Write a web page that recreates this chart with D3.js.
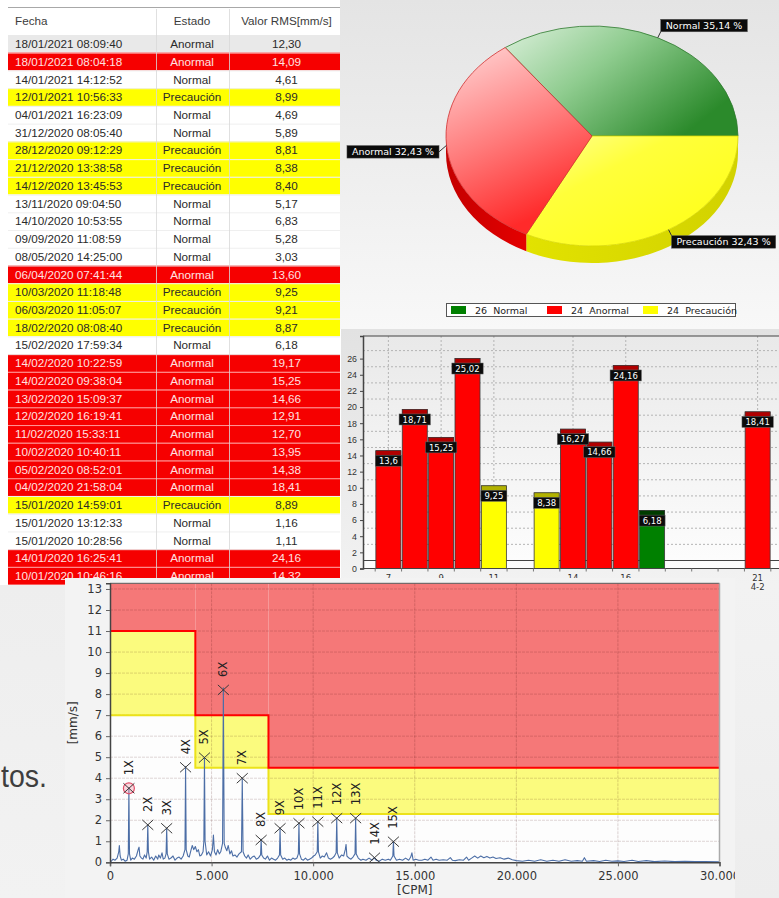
<!DOCTYPE html>
<html><head><meta charset="utf-8">
<script src="https://cdn.jsdelivr.net/npm/d3@7"></script>
<style>html,body{margin:0;padding:0;background:#fff;overflow:hidden}</style>
</head><body><svg id="c" width="779" height="898"></svg>
<script>
// ---------------- DATA ----------------
const tableHeaders = ["Fecha", "Estado", "Valor RMS[mm/s]"];
const tableDates = ["18/01/2021 08:09:40","18/01/2021 08:04:18","14/01/2021 14:12:52","12/01/2021 10:56:33","04/01/2021 16:23:09","31/12/2020 08:05:40","28/12/2020 09:12:29","21/12/2020 13:38:58","14/12/2020 13:45:53","13/11/2020 09:04:50","14/10/2020 10:53:55","09/09/2020 11:08:59","08/05/2020 14:25:00","06/04/2020 07:41:44","10/03/2020 11:18:48","06/03/2020 11:05:07","18/02/2020 08:08:40","15/02/2020 17:59:34","14/02/2020 10:22:59","14/02/2020 09:38:04","13/02/2020 15:09:37","12/02/2020 16:19:41","11/02/2020 15:33:11","10/02/2020 10:40:11","05/02/2020 08:52:01","04/02/2020 21:58:04","15/01/2020 14:59:01","15/01/2020 13:12:33","15/01/2020 10:28:56","14/01/2020 16:25:41","10/01/2020 10:46:16"];
const tableStates = ["Anormal","Anormal","Normal","Precaución","Normal","Normal","Precaución","Precaución","Precaución","Normal","Normal","Normal","Normal","Anormal","Precaución","Precaución","Precaución","Normal","Anormal","Anormal","Anormal","Anormal","Anormal","Anormal","Anormal","Anormal","Precaución","Normal","Normal","Anormal","Anormal"];
const tableValues = [12.30,14.09,4.61,8.99,4.69,5.89,8.81,8.38,8.40,5.17,6.83,5.28,3.03,13.60,9.25,9.21,8.87,6.18,19.17,15.25,14.66,12.91,12.70,13.95,14.38,18.41,8.89,1.16,1.11,24.16,14.32];
const selectedRow = 0;

const pieLabels = ["Normal", "Anormal", "Precaución"];
const pieCounts = [26, 24, 24];

const barDays = [7, 8, 9, 10, 11, 13, 14, 15, 16, 17, 21];
const barValues = [13.6, 18.71, 15.25, 25.02, 9.25, 8.38, 16.27, 14.66, 24.16, 6.18, 18.41];
const barStates = ["Anormal","Anormal","Anormal","Anormal","Precaución","Precaución","Anormal","Anormal","Anormal","Normal","Anormal"];
const barTickDays = [7, 9, 11, 14, 16, 21];
const barTickSub = {21: "4-2"};

const spectrum = [[0,0],[60,0.05],[150,0.15],[250,0.1],[350,0.2],[430,0.5],[460,0.8],[500,0.3],[560,0.1],[650,0.15],[750,0.05],[840,0.1],[900,0.4],[930,3.55],[960,0.4],[1020,0.1],[1100,0.2],[1200,0.15],[1300,0.3],[1400,0.65],[1430,0.72],[1470,0.3],[1550,0.2],[1620,0.15],[1700,0.35],[1780,0.2],[1830,0.5],[1860,1.8],[1890,0.5],[1950,0.15],[2050,0.25],[2150,0.1],[2250,0.3],[2350,0.15],[2400,0.35],[2480,0.2],[2560,0.45],[2620,0.15],[2700,0.2],[2760,0.4],[2790,1.62],[2820,0.4],[2900,0.15],[3000,0.2],[3100,0.3],[3200,0.1],[3300,0.2],[3400,0.25],[3500,0.15],[3600,0.3],[3690,0.6],[3720,4.55],[3750,0.6],[3830,0.3],[3900,0.25],[3980,0.55],[4050,0.8],[4120,0.6],[4200,0.75],[4280,0.5],[4350,0.6],[4420,0.3],[4500,0.35],[4580,0.5],[4620,1.0],[4650,5.0],[4680,1.0],[4760,0.35],[4850,0.5],[4950,0.3],[5040,0.6],[5090,1.3],[5140,0.5],[5220,0.35],[5300,0.6],[5380,0.4],[5450,0.5],[5540,0.9],[5580,8.3],[5620,0.9],[5680,0.7],[5750,0.55],[5820,0.8],[5900,0.4],[5980,0.55],[6050,0.3],[6150,0.35],[6250,0.25],[6350,0.4],[6470,0.5],[6510,4.0],[6550,0.5],[6630,0.3],[6720,0.2],[6800,0.35],[6900,0.15],[7000,0.25],[7100,0.3],[7200,0.15],[7300,0.2],[7410,0.35],[7440,1.1],[7470,0.35],[7560,0.2],[7650,0.15],[7750,0.3],[7850,0.1],[7950,0.2],[8050,0.15],[8150,0.1],[8250,0.2],[8340,0.35],[8370,1.62],[8400,0.35],[8500,0.15],[8600,0.2],[8700,0.1],[8800,0.15],[8900,0.1],[9000,0.2],[9100,0.15],[9200,0.2],[9270,0.4],[9300,1.86],[9330,0.4],[9420,0.15],[9520,0.1],[9620,0.2],[9720,0.1],[9820,0.15],[9920,0.2],[10020,0.3],[10100,0.35],[10200,0.5],[10230,1.95],[10260,0.5],[10350,0.2],[10450,0.3],[10550,0.25],[10660,0.45],[10750,0.2],[10850,0.15],[10950,0.2],[11050,0.3],[11130,0.45],[11160,2.1],[11190,0.45],[11280,0.2],[11400,0.35],[11500,0.3],[11580,0.6],[11620,0.85],[11660,0.3],[11760,0.2],[11860,0.15],[11960,0.25],[12060,0.4],[12090,2.1],[12120,0.4],[12220,0.2],[12350,0.1],[12450,0.15],[12600,0.1],[12750,0.2],[12900,0.1],[13000,0.22],[13100,0.1],[13250,0.05],[13400,0.15],[13550,0.1],[13700,0.15],[13800,0.1],[13920,0.3],[13950,1.0],[13980,0.3],[14100,0.1],[14250,0.15],[14400,0.1],[14550,0.2],[14700,0.1],[14800,0.25],[14860,0.45],[14920,0.1],[15050,0.15],[15200,0.1],[15350,0.1],[15500,0.15],[15650,0.1],[15800,0.25],[15900,0.1],[16050,0.15],[16200,0.1],[16400,0.12],[16600,0.1],[16750,0.22],[16850,0.1],[17000,0.08],[17200,0.12],[17400,0.1],[17550,0.25],[17650,0.1],[17800,0.2],[17950,0.3],[18100,0.2],[18250,0.3],[18400,0.22],[18550,0.28],[18700,0.2],[18850,0.25],[19000,0.18],[19200,0.22],[19400,0.15],[19600,0.2],[19800,0.12],[20000,0.08],[20300,0.05],[20600,0.1],[20900,0.05],[21200,0.12],[21500,0.05],[21800,0.1],[22100,0.05],[22400,0.12],[22700,0.05],[23000,0.08],[23250,0.05],[23350,0.22],[23450,0.05],[23800,0.08],[24100,0.04],[24400,0.1],[24700,0.05],[25000,0.07],[25300,0.04],[25700,0.1],[26000,0.04],[26400,0.08],[26800,0.03],[27300,0.06],[27800,0.03],[28300,0.05],[28800,0.03],[29300,0.04],[30000,0.02]];
const harmCPM = [930,1860,2790,3720,4650,5580,6510,7440,8370,9300,10230,11160,12090,13020,13950];
const harmAmp = [3.52,1.78,1.62,4.52,4.98,8.2,4.0,1.06,1.62,1.86,1.93,2.1,2.1,0.22,0.98];
const zoneEdges = [0, 4200, 7800, 30000];
const alarmLevels = [11, 7, 4.5];
const warnLevels = [7, 4.5, 2.3];
const specXTicks = [0, 5000, 10000, 15000, 20000, 25000, 30000];
const specYTicks = [0,1,2,3,4,5,6,7,8,9,10,11,12,13];

// ---------------- SETUP ----------------
const svg = d3.select("#c");
const defs = svg.append("defs");
function grad(id, x1, y1, x2, y2, stops) {
  const g = defs.append("linearGradient").attr("id", id)
    .attr("x1", x1).attr("y1", y1).attr("x2", x2).attr("y2", y2);
  stops.forEach(s => g.append("stop").attr("offset", s[0]).attr("stop-color", s[1]));
}
grad("gPiePanel", 0, 0, 0, 1, [[0, "#e4e4e4"], [1, "#f8f8f8"]]);
grad("gBarPanel", 0, 0, 0, 1, [[0, "#e2e2e2"], [0.45, "#f2f2f2"], [1, "#ededed"]]);
grad("gBarPlot", 0, 0, 0, 1, [[0, "#e9e9e9"], [1, "#fdfdfd"]]);
grad("gNormal", 0, 0, 1, 0.6, [[0, "#dcf0dc"], [0.45, "#8fcc8f"], [1, "#2b8a2b"]]);
grad("gAnormal", 0, 0, 0.35, 1, [[0, "#ffd8d8"], [0.55, "#ff7b7b"], [1, "#ff2a2a"]]);
grad("gPrecaucion", 0, 0, 1, 1, [[0, "#ffff9a"], [0.35, "#ffff3a"], [1, "#ffff10"]]);
grad("gSideA", 0, 0, 1, 0, [[0, "#c40000"], [1, "#e40000"]]);
grad("gSideP", 0, 0, 1, 0, [[0, "#e2e200"], [1, "#d2d200"]]);
grad("gLeft", 0, 0, 0, 1, [[0, "#eeeeee"], [1, "#f2f2f2"]]);

svg.append("rect").attr("width", 779).attr("height", 898).attr("fill", "#ffffff");

// ---------------- TABLE ----------------
const tb = svg.append("g").attr("font-family", "'Liberation Sans', Arial, sans-serif").attr("font-size", "11.7px");
const rowTop = 35, rowH = 17.73, tX0 = 8, tX1 = 340, colDiv = [156, 229];
const stateFill = {"Anormal": "#f60000", "Precaución": "#ffff00", "Normal": "#ffffff"};
const rows = d3.range(tableDates.length);
tb.append("line").attr("x1", tX0).attr("x2", tX1).attr("y1", 7.5).attr("y2", 7.5).attr("stroke", "#a8a8a8");
tb.selectAll("rect.row").data(rows).join("rect")
  .attr("x", tX0).attr("y", i => rowTop + i * rowH).attr("width", tX1 - tX0).attr("height", rowH)
  .attr("fill", i => i === selectedRow ? "#e9e9e9" : stateFill[tableStates[i]]);
tb.selectAll("line.sep").data(rows.slice(1)).join("line")
  .attr("x1", tX0).attr("x2", tX1).attr("y1", i => rowTop + i * rowH + 0.5).attr("y2", i => rowTop + i * rowH + 0.5)
  .attr("stroke", i => (tableStates[i] === "Anormal" && tableStates[i - 1] === "Anormal") ? "#ff9a9a" : "#efefef").attr("stroke-width", 1);
colDiv.forEach(x => tb.append("line").attr("x1", x + 0.5).attr("x2", x + 0.5).attr("y1", 9).attr("y2", 585)
  .attr("stroke", "#d8d8d8").attr("stroke-opacity", 0.8));
const colText = [{x: 15, anchor: "start"}, {x: 192, anchor: "middle"}, {x: 286.5, anchor: "middle"}];
tableHeaders.forEach((h, j) => tb.append("text").attr("x", colText[j].x).attr("y", 25)
  .attr("text-anchor", colText[j].anchor).attr("fill", "#3c3c3c").text(h));
const fmtVal = v => d3.format(".2f")(v).replace(".", ",");
rows.forEach(i => {
  const y = rowTop + i * rowH + rowH / 2 + 4.2;
  const col = (i !== selectedRow && tableStates[i] === "Anormal") ? "#ffe2e2" : "#2a2a2a";
  const vals = [tableDates[i], tableStates[i], fmtVal(tableValues[i])];
  vals.forEach((t, j) => tb.append("text").attr("x", colText[j].x).attr("y", y)
    .attr("text-anchor", colText[j].anchor).attr("fill", col).text(t));
});

// ---------------- PIE PANEL ----------------
const pg = svg.append("g");
pg.append("rect").attr("x", 340).attr("y", 0).attr("width", 439).attr("height", 329).attr("fill", "url(#gPiePanel)");
const pcx = 592, pcy = 136, prx = 146, pry = 110, pdep = 17;
const total = d3.sum(pieCounts);
const drawOrder = [0, 2, 1]; // clockwise: Normal, Precaución, Anormal
const startA = Math.PI / 2 - 2 * Math.PI * pieCounts[0] / total;
const arcs = d3.pie().sort(null).value(i => pieCounts[i]).startAngle(startA).endAngle(startA + 2 * Math.PI)(drawOrder);
const P = (a, dy = 0) => [pcx + prx * Math.sin(a), pcy - pry * Math.cos(a) + dy];
const topFill = {"Normal": "url(#gNormal)", "Anormal": "url(#gAnormal)", "Precaución": "url(#gPrecaucion)"};
const sideFill = {"Normal": "#1f6f1f", "Anormal": "url(#gSideA)", "Precaución": "url(#gSideP)"};
const rimCol = {"Normal": "#2f7a2f", "Anormal": "#d03030", "Precaución": "#d8d800"};
// side walls
arcs.forEach(a => {
  const s = Math.max(a.startAngle, Math.PI / 2), e = Math.min(a.endAngle, 3 * Math.PI / 2);
  if (e - s <= 0.001) return;
  const p0 = P(s), p1 = P(e), q1 = P(e, pdep), q0 = P(s, pdep);
  const lg = (e - s) > Math.PI ? 1 : 0;
  pg.append("path").attr("d", `M${p0}A${prx},${pry} 0 ${lg} 1 ${p1}L${q1}A${prx},${pry} 0 ${lg} 0 ${q0}Z`)
    .attr("fill", sideFill[pieLabels[a.data]]);
});
// top faces
arcs.forEach(a => {
  const p0 = P(a.startAngle), p1 = P(a.endAngle);
  const lg = (a.endAngle - a.startAngle) > Math.PI ? 1 : 0;
  pg.append("path").attr("d", `M${pcx},${pcy}L${p0}A${prx},${pry} 0 ${lg} 1 ${p1}Z`)
    .attr("fill", topFill[pieLabels[a.data]]).attr("stroke", rimCol[pieLabels[a.data]]).attr("stroke-width", 0.8)
    .attr("stroke-linejoin", "round");
});
// labels
const pl = pg.append("g").attr("font-family", "'DejaVu Sans', Verdana, sans-serif").attr("font-size", "9.5px");
arcs.forEach(a => {
  const m = (a.startAngle + a.endAngle) / 2;
  const anc = P(m);
  const right = Math.sin(m) > 0;
  const txt = `${pieLabels[a.data]} ${d3.format(".2f")(100 * pieCounts[a.data] / total).replace(".", ",")} %`;
  let end, bx0, by0;
  const bh = 12.5;
  const t = pl.append("text").attr("fill", "#ffffff").text(txt);
  const tw = t.node().getComputedTextLength();
  const bw = tw + 10;
  if (right) {
    const up = Math.cos(m) > 0;
    end = [anc[0] + 3, anc[1] + (up ? -6 : 6)];
    bx0 = end[0]; by0 = up ? end[1] - bh : end[1];
  } else {
    end = [anc[0] - 7.5, anc[1] + 6.5];
    bx0 = end[0] - bw; by0 = end[1] - bh / 2;
  }
  pl.insert("line", "text").attr("x1", anc[0]).attr("y1", anc[1]).attr("x2", end[0]).attr("y2", end[1]).attr("stroke", "#333").attr("stroke-width", 1);
  pl.insert("rect", "text").attr("x", bx0).attr("y", by0).attr("width", bw).attr("height", bh).attr("fill", "#0b0b0b").attr("stroke", "#555").attr("stroke-width", 0.5);
  t.attr("x", bx0 + 5).attr("y", by0 + 9.6);
});
// legend
const lgG = pg.append("g").attr("font-family", "'DejaVu Sans', Verdana, sans-serif").attr("font-size", "9.5px");
lgG.append("rect").attr("x", 446.5).attr("y", 303.5).attr("width", 289).attr("height", 13).attr("fill", "#ffffff").attr("stroke", "#555");
const legCol = {"Normal": "#008000", "Anormal": "#ff0000", "Precaución": "#ffff00"};
pieLabels.forEach((lab, i) => {
  const x = 451 + i * 96;
  lgG.append("rect").attr("x", x).attr("y", 306).attr("width", 15).attr("height", 8).attr("fill", legCol[lab]);
  lgG.append("text").attr("x", x + 24).attr("y", 313.5).attr("fill", "#222").style("white-space", "pre").text(`${pieCounts[i]}  ${lab}`);
});

// ---------------- BAR PANEL ----------------
const bg = svg.append("g").attr("font-family", "'DejaVu Sans', Verdana, sans-serif");
bg.append("rect").attr("x", 341).attr("y", 329).attr("width", 438).attr("height", 569).attr("fill", "url(#gBarPanel)");
const bX = d3.scaleLinear().domain([6, 22]).range([362, 784]);
const bY = d3.scaleLinear().domain([0, 28.8]).range([568.5, 336]);
const depth = 8;
bg.append("rect").attr("x", 363).attr("y", 336).attr("width", 416).attr("height", 232.5).attr("fill", "url(#gBarPlot)");
// horizontal grid (back wall, offset by depth)
d3.range(0, 28, 2).forEach(v => {
  bg.append("line").attr("x1", 363).attr("x2", 779).attr("y1", bY(v) - depth).attr("y2", bY(v) - depth)
    .attr("stroke", v === 0 ? "#444" : "#b4b4b4").attr("stroke-width", 1)
    .attr("stroke-dasharray", v === 0 ? null : "2,2");
});
barTickDays.forEach(d => bg.append("line").attr("x1", bX(d)).attr("x2", bX(d)).attr("y1", 336).attr("y2", 568)
  .attr("stroke", "#b4b4b4").attr("stroke-dasharray", "2,2"));
// bars
const barCol = {"Anormal": ["#ff0000", "#b00000"], "Precaución": ["#ffff00", "#b2b200"], "Normal": ["#008000", "#003c00"]};
const bars = bg.append("g");
barDays.forEach((d, i) => {
  const v = barValues[i], c = barCol[barStates[i]];
  const top = bY(v) - depth;
  bars.append("rect").attr("x", bX(d) - 12.5).attr("y", top).attr("width", 25).attr("height", bY(0) - top)
    .attr("fill", c[0]).attr("stroke", "#3a3a3a").attr("stroke-width", 0.8);
  bars.append("rect").attr("x", bX(d) - 12.5).attr("y", top).attr("width", 25).attr("height", 5)
    .attr("fill", c[1]).attr("stroke", "#3a3a3a").attr("stroke-width", 0.6);
});
// bar labels
const fmtBar = v => (Math.round(v * 100) / 100).toString().replace(".", ",");
barDays.forEach((d, i) => {
  const v = barValues[i];
  const cy = bY(v) + 2;
  const t = bars.append("text").attr("font-size", "8.5px").attr("fill", "#fff").attr("text-anchor", "middle")
    .attr("x", bX(d)).attr("y", cy + 3.2).text(fmtBar(v));
  const w = t.node().getComputedTextLength() + 7;
  bars.insert("rect", () => t.node()).attr("x", bX(d) - w / 2).attr("y", cy - 5.5).attr("width", w).attr("height", 11)
    .attr("fill", "#0b0b0b").attr("stroke", "#666").attr("stroke-width", 0.5);
});
// axes
const yAx = bg.append("g").attr("transform", "translate(363,0)")
  .call(d3.axisLeft(bY).tickValues(d3.range(0, 27, 2)).tickSize(3).tickPadding(3));
yAx.select(".domain").attr("stroke", "#444").attr("stroke-width", 1.5);
yAx.selectAll("text").attr("font-family", "'Liberation Sans', Arial, sans-serif").attr("font-size", "8.8px").attr("fill", "#333");
yAx.selectAll("line").attr("stroke", "#444");
bg.append("line").attr("x1", 363).attr("x2", 779).attr("y1", 336).attr("y2", 336).attr("stroke", "#444").attr("stroke-width", 1.2);
bg.append("line").attr("x1", 363).attr("x2", 779).attr("y1", 568.5).attr("y2", 568.5).attr("stroke", "#444").attr("stroke-width", 1.2);
d3.range(6.5, 22, 1).forEach(d => bg.append("line").attr("x1", bX(d)).attr("x2", bX(d)).attr("y1", 568.5).attr("y2", 571.5).attr("stroke", "#777"));
barTickDays.forEach(d => {
  bg.append("text").attr("x", bX(d)).attr("y", 580.5).attr("text-anchor", "middle").attr("font-size", "8.5px").attr("fill", "#333").text(d);
  if (barTickSub[d]) bg.append("text").attr("x", bX(d)).attr("y", 589.5).attr("text-anchor", "middle").attr("font-size", "8.5px").attr("fill", "#333").text(barTickSub[d]);
});

// ---------------- LEFT AREA ----------------
svg.append("rect").attr("x", 0).attr("y", 585).attr("width", 66).attr("height", 313).attr("fill", "url(#gLeft)");
svg.append("text").attr("x", 1).attr("y", 787).attr("text-anchor", "start")
  .attr("textLength", 46).attr("lengthAdjust", "spacingAndGlyphs")
  .attr("font-family", "'Liberation Sans', Arial, sans-serif").attr("font-size", "32px").attr("fill", "#3e3e3e").text("tos.");

// ---------------- SPECTRUM PANEL ----------------
defs.append("clipPath").attr("id", "cpSpec").append("rect").attr("x", 65).attr("y", 578).attr("width", 670).attr("height", 320);
const sg = svg.append("g").attr("clip-path", "url(#cpSpec)").attr("font-family", "'DejaVu Sans', Verdana, sans-serif");
sg.append("rect").attr("x", 65).attr("y", 578).attr("width", 670).attr("height", 320).attr("fill", "#f3f3f3");
const sX = d3.scaleLinear().domain([0, 30000]).range([110, 719.5]);
const sY = d3.scaleLinear().domain([0, 13.27]).range([862.3, 583.3]);
defs.append("clipPath").attr("id", "cpPlot").append("rect").attr("x", sX(0)).attr("y", sY(13.27)).attr("width", sX(30000) - sX(0)).attr("height", sY(0) - sY(13.27));
sg.append("rect").attr("x", sX(0)).attr("y", sY(13.27)).attr("width", sX(30000) - sX(0)).attr("height", sY(0) - sY(13.27)).attr("fill", "#fdfdfd");
const plotG = sg.append("g").attr("clip-path", "url(#cpPlot)");
// zones
zoneEdges.slice(0, -1).forEach((x0, i) => {
  const x1 = zoneEdges[i + 1];
  plotG.append("rect").attr("x", sX(x0)).attr("y", sY(13.27)).attr("width", sX(x1) - sX(x0)).attr("height", sY(alarmLevels[i]) - sY(13.27)).attr("fill", "#f57878");
  plotG.append("rect").attr("x", sX(x0)).attr("y", sY(alarmLevels[i])).attr("width", sX(x1) - sX(x0)).attr("height", sY(warnLevels[i]) - sY(alarmLevels[i])).attr("fill", "#fbfb7e");
});
// grid
specYTicks.slice(1).forEach(v => plotG.append("line").attr("x1", sX(0)).attr("x2", sX(30000)).attr("y1", sY(v)).attr("y2", sY(v))
  .attr("stroke", "rgba(60,0,0,0.16)").attr("stroke-dasharray", "3,1"));
specXTicks.slice(1, -1).forEach(v => plotG.append("line").attr("x1", sX(v)).attr("x2", sX(v)).attr("y1", sY(13.27)).attr("y2", sY(0))
  .attr("stroke", "rgba(60,0,0,0.18)").attr("stroke-dasharray", "3,1"));
// boundary lines
const stepPts = levels => {
  const pts = [];
  levels.forEach((l, i) => { pts.push([zoneEdges[i], l]); pts.push([zoneEdges[i + 1], l]); });
  return pts;
};
const stepLine = d3.line().x(d => sX(d[0])).y(d => sY(d[1]));
plotG.append("path").attr("d", stepLine(stepPts(warnLevels))).attr("fill", "none").attr("stroke", "#ece21a").attr("stroke-width", 2);
plotG.append("path").attr("d", stepLine(stepPts(alarmLevels))).attr("fill", "none").attr("stroke", "#ff0000").attr("stroke-width", 2);
// spectrum trace
plotG.append("path").attr("d", d3.line().x(d => sX(d[0])).y(d => sY(d[1]))(spectrum))
  .attr("fill", "none").attr("stroke", "#4c6ea6").attr("stroke-width", 1.1).attr("stroke-linejoin", "round");
// harmonic markers
harmCPM.forEach((f, i) => {
  const x = sX(f), y = sY(harmAmp[i]);
  if (i === 0) plotG.append("circle").attr("cx", x).attr("cy", y).attr("r", 5.5).attr("fill", "rgba(245,140,160,0.35)").attr("stroke", "#e0506a").attr("stroke-width", 1.2);
  plotG.append("path").attr("d", `M${x - 5.5},${y - 5}L${x + 5.5},${y + 5}M${x - 5.5},${y + 5}L${x + 5.5},${y - 5}`)
    .attr("stroke", "#3a3a3a").attr("stroke-width", 1);
  plotG.append("text").attr("transform", `translate(${x},${y - 13}) rotate(-90)`).attr("dominant-baseline", "central")
    .attr("font-size", "11.5px").attr("fill", "#222").text(`${i + 1}X`);
});
// plot border
sg.append("line").attr("x1", sX(0)).attr("x2", sX(30000)).attr("y1", sY(13.27)).attr("y2", sY(13.27)).attr("stroke", "#555");
sg.append("line").attr("x1", sX(30000)).attr("x2", sX(30000)).attr("y1", sY(13.27)).attr("y2", sY(0)).attr("stroke", "#aaa").attr("stroke-width", 1.5);
// axes
const fr = d3.formatLocale({decimal: ",", thousands: ".", grouping: [3], currency: ["", ""]});
const sxAx = sg.append("g").attr("transform", `translate(0,${sY(0)})`)
  .call(d3.axisBottom(sX).tickValues(specXTicks).tickFormat(fr.format(",")).tickSize(4).tickPadding(6));
const syAx = sg.append("g").attr("transform", `translate(${sX(0)},0)`)
  .call(d3.axisLeft(sY).tickValues(specYTicks).tickSize(4).tickPadding(4));
[sxAx, syAx].forEach(a => {
  a.select(".domain").attr("stroke", "#444").attr("stroke-width", 1.5);
  a.selectAll("line").attr("stroke", "#666");
  a.selectAll("text").attr("font-family", "'DejaVu Sans', Verdana, sans-serif").attr("font-size", "11.5px").attr("fill", "#333");
});
sg.append("text").attr("x", (sX(0) + sX(30000)) / 2).attr("y", 894).attr("text-anchor", "middle")
  .attr("font-size", "12px").attr("fill", "#333").text("[CPM]");
sg.append("text").attr("transform", `translate(73,${(sY(0) + sY(13.27)) / 2}) rotate(-90)`).attr("text-anchor", "middle")
  .attr("dominant-baseline", "central").attr("font-size", "12px").attr("fill", "#333").text("[mm/s]");
</script>
</body></html>
